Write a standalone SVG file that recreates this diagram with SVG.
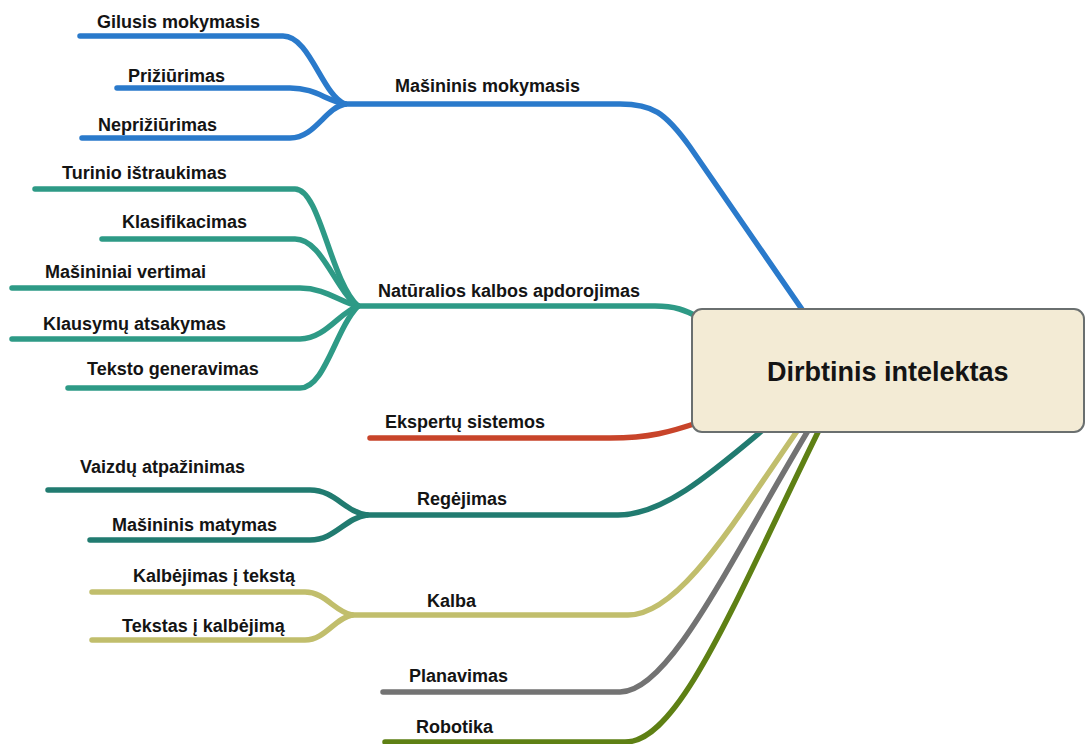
<svg xmlns="http://www.w3.org/2000/svg" width="1085" height="744" viewBox="0 0 1085 744">
<style>
.c{fill:none;stroke-width:5.5;stroke-linecap:round;stroke-linejoin:round}
.blue{stroke:#2a7acb}
.teal{stroke:#2e9a86}
.dteal{stroke:#217b70}
.red{stroke:#c8442a}
.olive{stroke:#c1be6c}
.gray{stroke:#737373}
.green{stroke:#5e8014}
text{font-family:"Liberation Sans",Arial,sans-serif;font-weight:bold;font-size:18px;fill:#141414}
.main{font-size:27px}
</style>
<rect width="1085" height="744" fill="#ffffff"/>
<g id="connectors">
<path class="c blue" d="M343,104 H620 C652,104 665,112 690,147 L808,318"/>
<path class="c blue" d="M80,36 H283 C310,36 322,95 345,104"/>
<path class="c blue" d="M117,88 H290 C315,88 325,100 345,104"/>
<path class="c blue" d="M82,138 H290 C315,138 325,108 345,104"/>
<path class="c teal" d="M358,306 H655 C675,306 685,310 700,318"/>
<path class="c teal" d="M35,189 H295 C320,189 330,280 358,306"/>
<path class="c teal" d="M102,239 H295 C322,239 335,290 358,306"/>
<path class="c teal" d="M12,288 H300 C325,288 340,302 358,306"/>
<path class="c teal" d="M12,339 H300 C325,339 340,312 358,306"/>
<path class="c teal" d="M68,388 H300 C325,388 335,330 358,306"/>
<path class="c red" d="M370,438 H610 C650,438 670,432 700,422"/>
<path class="c dteal" d="M367,515 H618 C665,515 715,470 770,424"/>
<path class="c dteal" d="M48,490 H310 C335,490 345,512 367,515"/>
<path class="c dteal" d="M90,540 H310 C335,540 345,518 367,515"/>
<path class="c olive" d="M352,615 H628 C680,615 735,520 802,424"/>
<path class="c olive" d="M92,592 H305 C325,592 335,612 352,615"/>
<path class="c olive" d="M92,640 H305 C325,640 335,618 352,615"/>
<path class="c gray" d="M383,692 H620 C670,692 730,560 812,424"/>
<path class="c green" d="M385,742 H625 C680,742 735,600 822,424"/>
</g>
<g id="node-center">
<rect x="692" y="309" width="392" height="123" rx="10" fill="#f3ebd5" stroke="#6a6f6f" stroke-width="2"/>
<text class="main" x="767" y="381">Dirbtinis intelektas</text>
</g>
<g id="node-masininis-mokymasis"><text x="395" y="92">Mašininis mokymasis</text></g>
<g id="node-gilusis"><text x="97" y="28">Gilusis mokymasis</text></g>
<g id="node-priziurimas"><text x="128" y="82">Prižiūrimas</text></g>
<g id="node-nepriziurimas"><text x="98" y="131">Neprižiūrimas</text></g>
<g id="node-nlp"><text x="378" y="297">Natūralios kalbos apdorojimas</text></g>
<g id="node-turinio"><text x="62" y="179">Turinio ištraukimas</text></g>
<g id="node-klasifikacimas"><text x="122" y="228">Klasifikacimas</text></g>
<g id="node-vertimai"><text x="45" y="278">Mašininiai vertimai</text></g>
<g id="node-klausymu"><text x="43" y="330">Klausymų atsakymas</text></g>
<g id="node-teksto"><text x="87" y="375">Teksto generavimas</text></g>
<g id="node-ekspertu"><text x="385" y="428">Ekspertų sistemos</text></g>
<g id="node-regejimas"><text x="417" y="505">Regėjimas</text></g>
<g id="node-vaizdu"><text x="80" y="473">Vaizdų atpažinimas</text></g>
<g id="node-matymas"><text x="112" y="531">Mašininis matymas</text></g>
<g id="node-kalba"><text x="427" y="607">Kalba</text></g>
<g id="node-kalbejimas"><text x="133" y="582">Kalbėjimas į tekstą</text></g>
<g id="node-tekstas"><text x="122" y="632">Tekstas į kalbėjimą</text></g>
<g id="node-planavimas"><text x="409" y="682">Planavimas</text></g>
<g id="node-robotika"><text x="416" y="733">Robotika</text></g>
</svg>
